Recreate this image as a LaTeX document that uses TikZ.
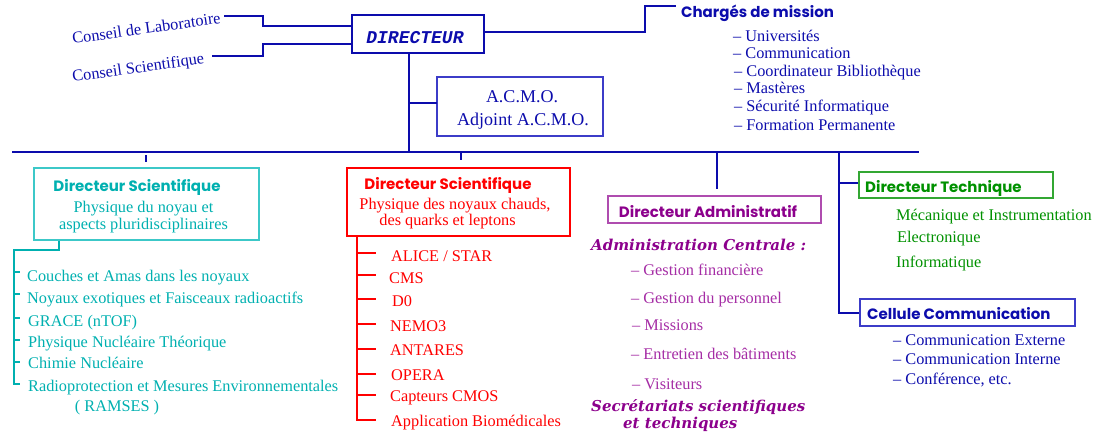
\documentclass[tikz,border=0pt]{standalone}
\usepackage{fontspec}
\setmainfont{Liberation Serif}
\newfontfamily\hsans{Poppins}
\newfontfamily\monobi{Liberation Mono}
\newfontfamily\cschbi{DejaVu Serif}
\definecolor{mblue}{RGB}{12,12,172}
\definecolor{lblue}{RGB}{60,60,200}
\definecolor{mteal}{RGB}{0,176,176}
\definecolor{lteal}{RGB}{60,200,200}
\definecolor{mred}{RGB}{255,0,0}
\definecolor{mpurp}{RGB}{140,0,140}
\definecolor{lpurp}{RGB}{165,45,165}
\definecolor{mgreen}{RGB}{0,145,0}
\tikzset{
  lt/.style={inner sep=0pt, anchor=base west},
  ct/.style={inner sep=0pt, anchor=base},
  hd/.style={inner sep=0pt, font=\hsans\bfseries\fontsize{15}{17}\selectfont},
  bx/.style={draw, inner sep=0pt},
  ln/.style={line width=2pt, line cap=rect},
  bigser/.style={font=\fontsize{18}{21}\selectfont},
  bitit/.style={inner sep=0pt, anchor=base west, font=\cschbi\bfseries\itshape\fontsize{15}{17}\selectfont}
}
\begin{document}
\begin{tikzpicture}[x=1pt,y=-1pt,font=\fontsize{16.3}{19}\selectfont]
\useasboundingbox (0,0) rectangle (1106,437);

% ---------- top: director ----------
\node[bx, draw=mblue, line width=2pt, minimum width=132pt, minimum height=38pt] (dir) at (418,34) {};
\node[ct, mblue, font=\monobi\bfseries\itshape\fontsize{18}{20}\selectfont] (dirt) at (415,43) {DIRECTEUR};

\node[lt, mblue, rotate=8] (cl) at (73,44) {Conseil de Laboratoire};
\node[lt, mblue, rotate=8] (cs) at (73,82) {Conseil Scientifique};
\coordinate (clend) at (225,16);
\coordinate (csend) at (213,56);
\draw[ln, mblue] (clend) -- (263,16) -- (263,26) -- ([yshift=8pt]dir.west);
\draw[ln, mblue] (csend) -- (263,56) -- (263,44) -- ([yshift=-10pt]dir.west);

\node[hd, lt, mblue] (ch) at (681,17) {Chargés de mission};
\coordinate (chend) at (675,6);
\draw[ln, mblue] ([yshift=2pt]dir.east) -- (645,32) -- (645,6) -- (chend);
\node[lt, mblue] (ch1) at (733,41) {– Universités};
\node[lt, mblue] (ch2) at (733,58) {– Communication};
\node[lt, mblue] (ch3) at (734,76) {– Coordinateur Bibliothèque};
\node[lt, mblue] (ch4) at (734,93.5) {– Mastères};
\node[lt, mblue] (ch5) at (734,111) {– Sécurité Informatique};
\node[lt, mblue] (ch6) at (734,130) {– Formation Permanente};

\node[bx, draw=lblue, line width=1.2pt, minimum width=166pt, minimum height=59pt] (acmo) at (520,106.5) {};
\node[ct, mblue, bigser] (acmo1) at (522,102) {A.C.M.O.};
\node[ct, mblue, bigser] (acmo2) at (523,125) {Adjoint A.C.M.O.};

% bus
\coordinate (busL) at (13,152);
\coordinate (busR) at (918,152);
\coordinate (busD) at (409,152);
\draw[ln, mblue] (busL) -- (busR);
\draw[ln, mblue] ([xshift=-9pt]dir.south) -- (busD);
\draw[ln, mblue] (409,103) -- ([yshift=3.5pt]acmo.west);

% ---------- teal column ----------
\node[bx, draw=lteal, line width=1.5pt, minimum width=225pt, minimum height=72pt] (dsA) at (146.5,204) {};
\node[hd, ct, mteal] (dsAt) at (137,191) {Directeur Scientifique};
\node[ct, mteal] (dsA1) at (143.5,212) {Physique du noyau et};
\node[ct, mteal] (dsA2) at (143.5,229.5) {aspects pluridisciplinaires};
\draw[line width=2pt, mblue] (146,155) -- (146,162);

\node[lt, mteal] (t1) at (27,281) {Couches et Amas dans les noyaux};
\node[lt, mteal] (t2) at (27,303) {Noyaux exotiques et Faisceaux radioactifs};
\node[lt, mteal] (t3) at (28,326) {GRACE (nTOF)};
\node[lt, mteal] (t4) at (28,347) {Physique Nucléaire Théorique};
\node[lt, mteal] (t5) at (28,368) {Chimie Nucléaire};
\node[lt, mteal] (t6) at (28,391) {Radioprotection et Mesures Environnementales};
\node[ct, mteal] (t6b) at (117,411) {( RAMSES )};
\draw[ln, mteal, line cap=butt] ([xshift=-87.5pt]dsA.south) -- (59,250) -- (14,250) -- (14,384) -- (20,384);
\foreach \yy in {272,294,318,340,362}
  \draw[line width=2pt, mteal] (14,\yy) -- (20,\yy);

% ---------- red column ----------
\node[bx, draw=mred, line width=1.2pt, minimum width=223pt, minimum height=68pt] (dsB) at (458.5,202) {};
\node[hd, ct, mred] (dsBt) at (448,189) {Directeur Scientifique};
\node[ct, mred] (dsB1) at (455,209) {Physique des noyaux chauds,};
\node[ct, mred] (dsB2) at (447.5,225) {des quarks et leptons};
\draw[line width=2pt, mblue] (461,152) -- (461,160);

\node[lt, mred] (r1) at (391,261) {ALICE / STAR};
\node[lt, mred] (r2) at (389,283) {CMS};
\node[lt, mred] (r3) at (392,306) {D0};
\node[lt, mred] (r4) at (390,331) {NEMO3};
\node[lt, mred] (r5) at (390,355) {ANTARES};
\node[lt, mred] (r6) at (391,380) {OPERA};
\node[lt, mred] (r7) at (390,401) {Capteurs CMOS};
\node[lt, mred] (r8) at (391,426) {Application Biomédicales};
\draw[ln, mred, line cap=butt] ([xshift=-101.5pt]dsB.south) -- (357,420) -- (376,420);
\foreach \yy in {253,275,299,324,349,374,395}
  \draw[line width=2pt, mred] (357,\yy) -- (376,\yy);

% ---------- purple column ----------
\node[bx, draw=mpurp!70, line width=1.5pt, minimum width=213pt, minimum height=27pt] (da) at (714.5,209.5) {};
\node[hd, ct, mpurp] (dat) at (708,217) {Directeur Administratif};
\draw[ln, mblue, line cap=butt] (717,152) -- (717,189);

\node[bitit, mpurp] (ac) at (591,250) {Administration Centrale :};
\node[lt, lpurp] (p1) at (631,275) {– Gestion financière};
\node[lt, lpurp] (p2) at (631,303) {– Gestion du personnel};
\node[lt, lpurp] (p3) at (632,330) {– Missions};
\node[lt, lpurp] (p4) at (631,359) {– Entretien des bâtiments};
\node[lt, lpurp] (p5) at (632,389) {– Visiteurs};
\node[bitit, mpurp] (sec1) at (591,411) {Secrétariats scientifiques};
\node[bitit, mpurp] (sec2) at (623,428) {et techniques};

% ---------- right column ----------
\node[bx, draw=mgreen!80, line width=1.2pt, minimum width=194pt, minimum height=26pt] (dt) at (956,185) {};
\node[hd, lt, mgreen] (dtt) at (865,192) {Directeur Technique};
\node[lt, mgreen] (g1) at (896,220) {Mécanique et Instrumentation};
\node[lt, mgreen] (g2) at (897,242) {Electronique};
\node[lt, mgreen] (g3) at (896,267) {Informatique};

\node[bx, draw=lblue, line width=1.5pt, minimum width=215pt, minimum height=27pt] (cc) at (967.5,312.5) {};
\node[hd, lt, mblue] (cct) at (867,319) {Cellule Communication};
\node[lt, mblue] (c1) at (893,345) {– Communication Externe};
\node[lt, mblue] (c2) at (893,364) {– Communication Interne};
\node[lt, mblue] (c3) at (893,384) {– Conférence, etc.};

\draw[ln, mblue, line cap=butt] (839,152) -- (839,312.5) -- (cc.west);
\draw[ln, mblue, line cap=butt] (839,183) -- ([yshift=2pt]dt.west);
\end{tikzpicture}
\end{document}
